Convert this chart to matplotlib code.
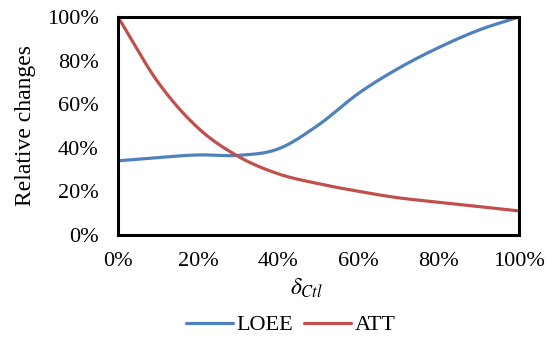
import numpy as np
import matplotlib
matplotlib.use("Agg")
import matplotlib.pyplot as plt
from matplotlib.ticker import PercentFormatter

plt.rcParams['font.family'] = ['Liberation Serif', 'DejaVu Serif']
plt.rcParams['mathtext.fontset'] = 'stix'

# data (percent)
delta_ctl = [0, 10, 20, 30, 40, 50, 60, 70, 80, 90, 100]
loee = [34, 35.5, 36.7, 36.5, 39.5, 50.5, 65, 76.5, 86, 94, 100]
att = [100, 70, 49, 36, 28, 23.5, 20, 17, 15, 13, 11]


def smooth(x, y, n=20):
    # catmull-rom style curve through the points, like a smoothed line
    x = np.asarray(x, float)
    y = np.asarray(y, float)
    px = np.concatenate([[2 * x[0] - x[1]], x, [2 * x[-1] - x[-2]]])
    py = np.concatenate([[2 * y[0] - y[1]], y, [2 * y[-1] - y[-2]]])
    xs, ys = [], []
    t = np.linspace(0, 1, n, endpoint=False)
    for i in range(1, len(px) - 2):
        for p, out in ((px, xs), (py, ys)):
            p0, p1, p2, p3 = p[i - 1], p[i], p[i + 1], p[i + 2]
            out.extend(0.5 * (2 * p1 + (-p0 + p2) * t
                              + (2 * p0 - 5 * p1 + 4 * p2 - p3) * t ** 2
                              + (-p0 + 3 * p1 - 3 * p2 + p3) * t ** 3))
    xs.append(x[-1])
    ys.append(y[-1])
    return np.array(xs), np.array(ys)


fig = plt.figure(figsize=(5.54, 3.39), dpi=100)
ax = fig.add_axes([0.213, 0.307, 0.724, 0.643])

sx, sy = smooth(delta_ctl, loee)
ax.plot(sx, sy, color='#4F81BD', lw=2.3, label='LOEE', solid_capstyle='round')
sx, sy = smooth(delta_ctl, att)
ax.plot(sx, sy, color='#C0504D', lw=2.3, label='ATT', solid_capstyle='round')

ax.set_xlim(0, 100)
ax.set_ylim(0, 100)
ax.set_xticks(range(0, 101, 20))
ax.set_yticks(range(0, 101, 20))
ax.xaxis.set_major_formatter(PercentFormatter(decimals=0))
ax.yaxis.set_major_formatter(PercentFormatter(decimals=0))
ax.tick_params(length=0, labelsize=16)
ax.tick_params(axis='y', pad=14)
ax.tick_params(axis='x', pad=12.5)
for s in ax.spines.values():
    s.set_linewidth(2.2)
    s.set_color('black')

ax.set_ylabel('Relative changes', fontsize=17, labelpad=8)
ax.set_xlabel(r'$\delta_{Ctl}$', fontsize=17, labelpad=4, x=0.47)

fig.legend(loc='center', bbox_to_anchor=(0.525, 0.041), ncol=2, frameon=False,
           fontsize=16, handlelength=2.1, columnspacing=0.5, handletextpad=0.15)

fig.savefig('out.png', dpi=100)
